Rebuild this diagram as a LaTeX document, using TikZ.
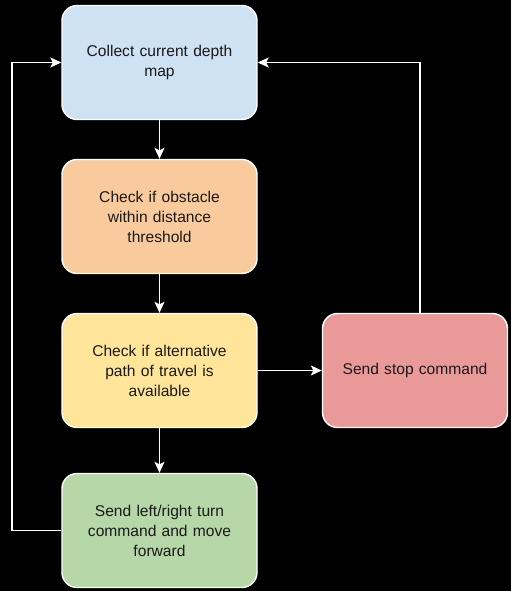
\documentclass[tikz,border=0pt]{standalone}
\usepackage{fontspec}
\setmainfont{Liberation Sans}
\usetikzlibrary{arrows.meta}
\definecolor{cblue}{HTML}{CFE2F3}
\definecolor{corange}{HTML}{F9CB9C}
\definecolor{cyellow}{HTML}{FFE599}
\definecolor{cgreen}{HTML}{B6D7A8}
\definecolor{cred}{HTML}{EA9999}
\definecolor{ctext}{HTML}{1A1A1A}
\begin{document}
\begin{tikzpicture}[x=1pt,y=-1pt,
  stepbox/.style={draw=white, line width=1.4pt, rounded corners=15pt,
    minimum width=195pt, minimum height=114pt, align=center,
    text width=185pt, font=\fontsize{15.6}{20}\selectfont, text=ctext},
  link/.style={draw=white, line width=1.3pt,
    -{Stealth[length=11pt,width=10pt,inset=2.5pt]}}]
  \fill[black] (0,0) rectangle (511,591);
  \useasboundingbox (0,0) rectangle (511,591);

  \node[stepbox, fill=cblue]   (collect) at (159.5,62.5)  {Collect current depth\\map};
  \node[stepbox, fill=corange] (check)   at (159.5,216.5) {Check if obstacle\\within distance\\threshold};
  \node[stepbox, fill=cyellow] (alt)     at (159.5,370.5) {Check if alternative\\path of travel is\\available};
  \node[stepbox, fill=cgreen]  (turn)    at (159.5,530.5) {Send left/right turn\\command and move\\forward};
  \node[stepbox, fill=cred, minimum width=185pt, text width=170pt] (stop) at (415,370.5) {Send stop command};

  \coordinate (ltop) at (12,62.5);
  \coordinate (lbot) at (12,530.5);
  \coordinate (rtop) at (420,62.5);

  \draw[link] (collect) -- (check);
  \draw[link] (check) -- (alt);
  \draw[link] (alt) -- (turn);
  \draw[link] (alt) -- (stop);
  \draw[link] (turn.west) -- (lbot) -- (ltop) -- (collect.west);
  \draw[link] (stop.north -| rtop) -- (rtop) -- (collect.east);
\end{tikzpicture}
\end{document}
